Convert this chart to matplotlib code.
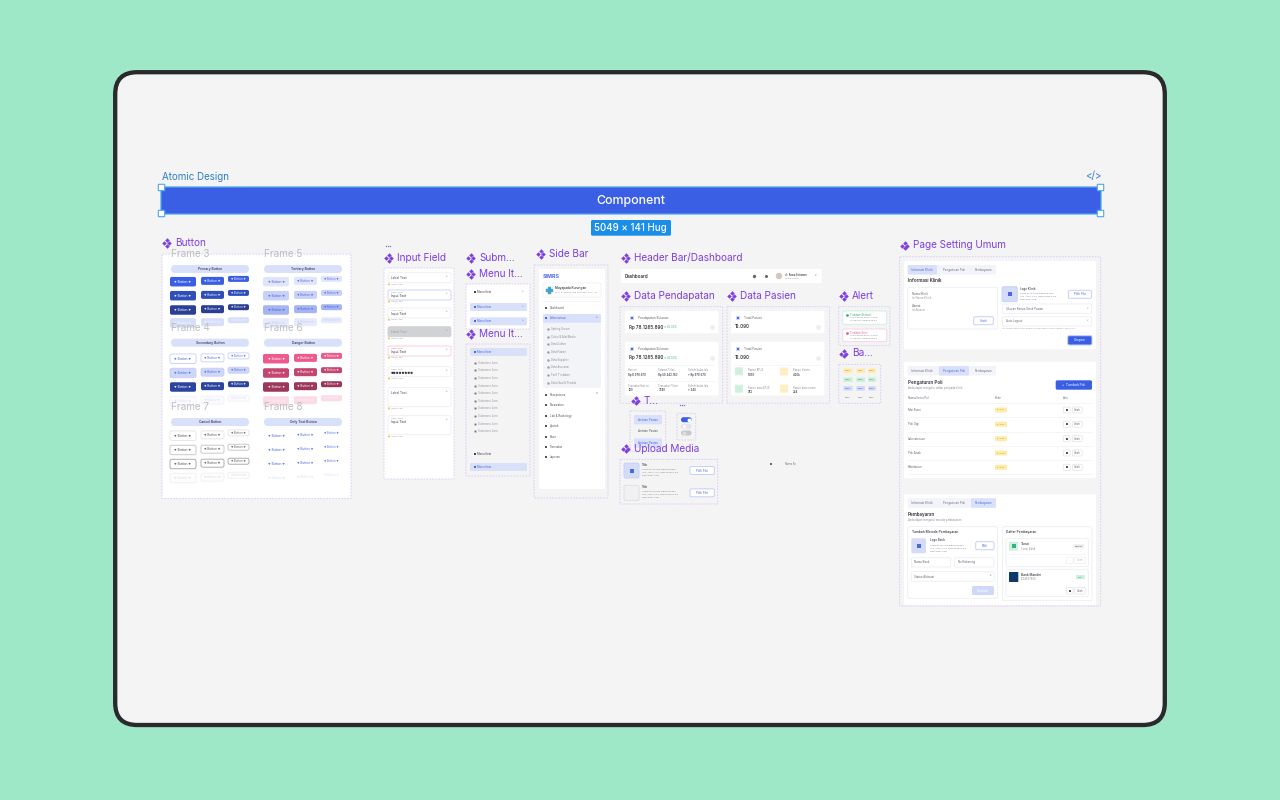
import matplotlib
matplotlib.use("Agg")
import matplotlib.pyplot as plt
from matplotlib.patches import FancyBboxPatch, Circle

plt.rcParams["font.family"] = ["Inter", "DejaVu Sans"]

PURPLE = "#7c3fe0"
BLUE = "#3a5fe5"
PALE = "#d9e0fa"
GRAY = "#f4f4f5"
LINE = "#eceef2"
DASH = "#d8c8f6"
SMALL = 0.82

section_titles = [
    (397, 258, "Input Field"), (479, 258, "Subm..."), (479, 274, "Menu It..."),
    (479, 334, "Menu It..."), (549, 254, "Side Bar"), (634, 258, "Header Bar/Dashboard"),
    (634, 296, "Data Pendapatan"), (740, 296, "Data Pasien"), (852, 296, "Alert"),
    (852, 353.5, "Ba..."), (644, 400.5, "T..."), (634, 448.5, "Upload Media"),
    (913, 245.5, "Page Setting Umum"), (175, 243, "Button"),
]

frame_names = ["Frame 3", "Frame 4", "Frame 7", "Frame 5", "Frame 6", "Frame 8"]
frame_titles = ["Primary Button", "Secondary Button", "Cancel Button",
                "Tertiary Button", "Danger Button", "Only Text Button"]
frame_y = [254, 327.7, 407]
pill_y = [269, 342.7, 422]
row_y = [[281.7, 295.7, 310, 323], [358.7, 373, 387, 401], [435.7, 450, 464, 478]]
col_x = [183, 212.5, 238.5]
col_w = [26, 23, 21]
col_h = [9.5, 8, 6]
col_fs = [2.9, 2.7, 2.4]
btn_fill = [
    ["#3a5fe5", "#2e4eb8", "#2a3f94", "#d7def9"],
    ["#ffffff", "#cfd7f8", "#2c439f", "#fbfbfe"],
    ["#ffffff", "#ffffff", "#ffffff", "#fdfdfd"],
    ["#e0e5fb", "#c8d1f7", "#a6b5f1", "#e6eafb"],
    ["#ee5a8e", "#c4456f", "#9c365a", "#fadbe6"],
    ["none", "none", "none", "none"],
]
btn_edge = [
    ["none"] * 4,
    ["#c5cff8", "#c5cff8", "none", "#f0f2fc"],
    ["#e3e3e5", "#c0c0c4", "#a0a0a5", "#f0f0f2"],
    ["none"] * 4,
    ["none"] * 4,
    ["none"] * 4,
]
btn_text = [
    ["#ffffff", "#ffffff", "#ffffff", "#f4f6fe"],
    ["#4a68e0", "#4a68e0", "#ffffff", "#d9e0fa"],
    ["#555559", "#555559", "#555559", "#dddddf"],
    ["#4a68e0", "#4a68e0", "#4a68e0", "#c8d1f7"],
    ["#ffffff", "#ffffff", "#ffffff", "#fdf2f6"],
    ["#4a68e0", "#4a68e0", "#4a68e0", "#d9e0fa"],
]

input_boxes = [
    (272.7, 10, "#ffffff", "#eeeef2", "Label Text", ""),
    (290, 10, "#ffffff", "#c5cff8", "Label Text", "Input Text"),
    (308, 10, "#ffffff", "#eeeef2", "Label Text", "Input Text"),
    (326.7, 10, "#d0d2d4", "#d0d2d4", "Label Text", ""),
    (346, 10, "#ffffff", "#f8c8d8", "Label Text", "Input Text"),
    (366.7, 10, "#ffffff", "#eeeef2", "Label Text", "\u25cf\u25cf\u25cf\u25cf\u25cf\u25cf\u25cf\u25cf"),
    (387.7, 19, "#ffffff", "#eeeef2", "Label Text", ""),
    (415.7, 19, "#ffffff", "#eeeef2", "Label Text", "Input Text"),
]

menu_top_y = [292.3, 307, 321.3]
menu_top_on = [False, True, True]
submenu_y = [362.7, 370.3, 378, 385.7, 393, 400.7, 408.3, 416, 423.7, 431.3]

side_sub_y = [329.3, 337, 344.3, 352.3, 359.7, 367.3, 375, 382.7]
side_sub = ["Setting Umum", "Cabin & Alat Medis", "Data Dokter", "Data Pasien", "Data Supplier",
            "Data Asuransi", "Tarif Tindakan", "Data Obat & Produk"]
side_main_y = [395, 405, 416, 426, 437, 447, 457]
side_main = ["Resepsionis", "Perawatan", "Lab & Radiology", "Apotek", "Kasir", "Transaksi", "Laporan"]

income_rows = [
    (628.5, "Hari ini", "Rp 8.978.670", "Transaksi Hari ini", "120"),
    (658.5, "Selama 7 Hari", "Rp 59.342.180", "Transaksi 7 Hari", "3740"),
    (688, "Selisih bulan lalu", "+ Rp 979.670", "Selisih bulan lalu", "+ 240"),
]
patient_stats = [
    (735, 370.3, "#cfefdf", "Pasien BPJS", "1.890"),
    (780, 370.3, "#ffeec2", "Pasien Umum", "4.20k"),
    (735, 387.7, "#cfefdf", "Pasien baru BPJS", "782"),
    (780, 387.7, "#ffeec2", "Pasien baru umum", "234"),
]
badge_x = [848, 860.7, 872]
badge_w = [9, 8.6, 7.6]
badge_y = [370.7, 379.7, 388.3, 397]
badge_fill = ["#ffeaa8", "#c8efd8", "#cfd8f8", "none"]
badge_text = ["#b8902a", "#3c9d6e", "#4a68e0", "#777777"]

tab_labels = ["Informasi Klinik", "Pengaturan Poli", "Pembayaran"]
tab_center = [922, 953.7, 983.7]
tab_sel = [(907.7, 29.3), (939, 30), (971, 25)]
poli_y = [410, 424.3, 438.7, 453, 467.3]
poli_line = [402.7, 417, 431.7, 445.7, 460, 474.3]
poli_names = ["Mei Bumi", "Poli Gigi", "Laboratorium", "Poli Anak", "Kebidanan"]
poli_codes = ["PL-001", "PL-002", "PL-003", "PL-004", "PL-005"]

fig = plt.figure(figsize=(12.8, 8), dpi=100, facecolor="#9fe8c7")
ax = fig.add_axes([0, 0, 1, 1])
ax.set_xlim(0, 1280)
ax.set_ylim(800, 0)
ax.axis("off")


def box(x, y, w, h, fc="#ffffff", ec="none", r=1.0, lw=0.5, ls="-", z=2):
    p = FancyBboxPatch((x, y), w, h, boxstyle=f"round,pad=0,rounding_size={r}",
                       fc=fc, ec=ec, lw=lw, ls=ls, zorder=z)
    ax.add_patch(p)


def dashed(x, y, w, h, fc="none", z=2):
    box(x, y, w, h, fc=fc, ec=DASH, r=0.5, lw=0.6, ls=(0, (2, 1.6)), z=z)


def txt(x, y, s, fs=2.6, c="#555566", ha="left", w="normal", z=5):
    # the mock's tiny labels come out narrower than their nominal size
    if fs < 3.2:
        fs = fs * SMALL
    ax.text(x, y, s, fontsize=fs, color=c, ha=ha, va="center", fontweight=w, zorder=z)


def comp_icon(cx, cy):
    d = 2.7
    for dx, dy in [(-d, 0), (d, 0), (0, -d), (0, d)]:
        ax.plot(cx + dx, cy + dy, marker="D", ms=2.3, color=PURPLE, mew=0, zorder=6)


def dots(cx, cy, c="#7c6fd8"):
    for dx in (-2, 0, 2):
        ax.plot(cx + dx, cy, marker="o", ms=1.0, color=c, mew=0, zorder=6)


def btn(x, y, w, h, label, fc="#ffffff", ec="#c5cff8", c="#4a68e0", fs=2.7, lw=0.7):
    box(x, y, w, h, fc=fc, ec=ec, r=1.5, lw=lw, z=4)
    txt(x + w / 2, y + h / 2, label, fs=fs, c=c, ha="center")


def tabs(y, sel):
    box(907.7, y, 88.3, 9.5, fc="#f3f4fa", r=1.2, z=3)
    box(tab_sel[sel][0], y, tab_sel[sel][1], 9.5, fc=PALE, r=1.2, z=3)
    for i in range(3):
        txt(tab_center[i], y + 4.8, tab_labels[i], fs=2.6, ha="center",
            c="#4a68e0" if i == sel else "#6a6a78")


# device frame
box(115.2, 72.2, 1049.6, 652.8, fc="#f4f4f4", ec="#2a2a2c", r=22, lw=3.1, z=1)

# selected component bar
txt(162, 176.5, "Atomic Design", fs=7.0, c="#2c7ccc")
ax.text(1093, 176.5, "</>", fontsize=7.0, color="#2c7ccc", ha="center", va="center", zorder=5)
box(161, 187, 940, 27, fc=BLUE, ec="#4aa8f0", r=0.01, lw=0.9)
txt(631, 200.7, "Component", fs=8.9, c="#ffffff", ha="center", w="medium")
for hx, hy in [(161.5, 187.5), (1100.5, 187.5), (161.5, 213.5), (1100.5, 213.5)]:
    box(hx - 3.2, hy - 3.2, 6.4, 6.4, fc="#ffffff", ec="#4aa8f0", r=0.5, lw=0.8, z=6)
box(591, 220, 80, 15.7, fc="#1b8fe8", r=1.5)
txt(630.5, 228, "5049 \u00d7 141 Hug", fs=7.0, c="#ffffff", ha="center", w="medium")

for tx, ty, s in section_titles:
    comp_icon(tx - 8.5, ty)
    txt(tx, ty, s, fs=7.2, c=PURPLE)
dots(388, 246)
dots(681.5, 405)

# buttons
box(162, 254, 189, 244.5, ec=DASH, r=0.3, lw=0.6, ls=(0, (2, 1.6)))
for f in range(6):
    off = 0 if f < 3 else 93
    k = f % 3
    txt(171 + off, frame_y[k], frame_names[f], fs=7.2, c="#bdbdc2", z=7)
    box(171 + off, pill_y[k] - 4, 78, 8, fc=PALE, r=4, z=3)
    txt(210 + off, pill_y[k], frame_titles[f], fs=2.9, c="#40405a", ha="center", w="semibold")
    for r in range(4):
        for c in range(3):
            yy = row_y[k][r] - (col_h[0] - col_h[c]) / 2 * (c / 2 + 0.6)
            box(col_x[c] + off - col_w[c] / 2, yy - col_h[c] / 2, col_w[c], col_h[c],
                fc=btn_fill[f][r], ec=btn_edge[f][r], r=1.8, lw=0.6, z=3)
            txt(col_x[c] + off, yy, "\u2726 Button \u2726", fs=col_fs[c], c=btn_text[f][r], ha="center")

# input fields
dashed(384, 268, 70, 211, fc="#ffffff")
for y0, h, fc, ec, lab, val in input_boxes:
    box(388, y0, 63, h, fc=fc, ec=ec, r=1.5, lw=0.6, z=3)
    if val:
        lab_c = "#ee5a8e" if ec == "#f8c8d8" else "#9a9aa5"
        txt(391, y0 + 2.6, lab, fs=2.1, c=lab_c)
        txt(391, y0 + 6.4, val, fs=2.8, c="#33333d")
    else:
        txt(391, y0 + 5, lab, fs=2.8, c="#9a9a9f" if fc != "#ffffff" else "#44444f")
    txt(446, y0 + 4.5, "\u02c4", fs=3, c="#8a8a95")
    box(388, y0 + h + 0.8, 1.8, 1.8, fc="#f5c33b", r=0.3, z=3)
    txt(391, y0 + h + 1.7, "Helper text", fs=2.1, c="#a0a0a8")

# menu items
dashed(466, 284, 64, 45, fc="#ffffff")
for yy, on in zip(menu_top_y, menu_top_on):
    if on:
        box(470, yy - 4, 57, 8, fc=PALE, r=1.2, z=3)
    ax.plot(474.5, yy, marker="s", ms=1.8, color="#4a68e0" if on else "#44444f", mew=0, zorder=5)
    txt(477, yy, "Menu Item", fs=2.5, c="#4a68e0" if on else "#44444f")
    txt(522, yy, "\u02c4", fs=3, c="#8a8a95")
dashed(466, 344, 64, 132)
box(470, 348, 57, 8, fc=PALE, r=1.2, z=3)
ax.plot(474.5, 352, marker="s", ms=1.8, color="#4a68e0", mew=0, zorder=5)
txt(477, 352, "Menu Item", fs=2.5, c="#4a68e0")
for yy in submenu_y:
    ax.plot(475, yy, marker="s", ms=1.4, color="#777782", mew=0, zorder=5)
    txt(478, yy, "Submenu Item", fs=2.5, c="#9a9aa5")
ax.plot(474.5, 454.3, marker="s", ms=1.8, color="#44444f", mew=0, zorder=5)
txt(477, 454.3, "Menu Item", fs=2.5, c="#44444f")
box(470, 463, 57, 8, fc=PALE, r=1.2, z=3)
ax.plot(474.5, 467, marker="s", ms=1.8, color="#4a68e0", mew=0, zorder=5)
txt(477, 467, "Menu Item", fs=2.5, c="#4a68e0")

# side bar
dashed(534, 265, 74, 233)
box(539, 269, 66, 220, r=0.5, z=3)
txt(543, 276.7, "SIMRS", fs=3.8, c="#4a68e0", w="bold")
box(543, 283, 58, 14, ec="#eeeef2", r=1.2, z=4)
ax.plot([549, 549], [288, 292], lw=2.4, color="#2bb79a", zorder=5)
ax.plot([547, 551], [290, 290], lw=2.4, color="#4a9be0", zorder=5)
txt(555, 288, "Mayapada Kuningan", fs=2.8, c="#33333d", w="medium")
txt(555, 292.3, "Jl. H. R. Rasuna Said Kuningan, D. K. I. B", fs=1.9, c="#8a8a95")
ax.plot([543, 601], [300.5, 300.5], lw=0.4, color=LINE, zorder=4)
ax.plot(546, 308, marker="s", ms=2, color="#555560", mew=0, zorder=5)
txt(550, 308, "Dashboard", fs=2.5, c="#55555f")
box(543, 322, 58, 66, fc="#f3f4f7", r=1.5, z=4)
box(543, 314, 58, 8.7, fc=PALE, r=1.2, z=4)
ax.plot(546, 318.4, marker="s", ms=2, color="#4a68e0", mew=0, zorder=5)
txt(550, 318.4, "Administrasi", fs=2.5, c="#4a68e0")
txt(596, 318.4, "\u02c4", fs=3, c="#4a68e0")
for yy, s in zip(side_sub_y, side_sub):
    ax.plot(548, yy, marker="o", ms=1.8, color="#a0a0a8", mew=0, zorder=5)
    txt(551, yy, s, fs=2.4, c="#8a8a95")
for yy, s in zip(side_main_y, side_main):
    ax.plot(546, yy, marker="s", ms=2, color="#555560", mew=0, zorder=5)
    txt(550, yy, s, fs=2.5, c="#55555f")
txt(596, 395, "\u02c5", fs=3.2, c="#8a8a95")

# header bar
box(620.7, 269, 201, 14, r=0.5)
txt(625, 276, "Dashboard", fs=3.25, c="#33333d", w="semibold")
ax.plot(754, 276, marker="o", ms=2.4, color="#666670", mew=0, zorder=5)
ax.plot(765.5, 276, marker="o", ms=2.2, color="#666670", mew=0, zorder=5)
ax.add_patch(Circle((779, 276), 3.2, fc="#d8c4c0", ec="none", zorder=5))
txt(785, 274.5, "dr. Rama Setiawan", fs=2.2, c="#33333d", w="medium")
txt(785, 278.2, "Administrator", fs=2.1, c="#9a9aa5")
txt(815, 276, "\u02c5", fs=3, c="#66666f")

# pendapatan cards
dashed(620, 306.7, 102.7, 96.5)
dashed(727, 306.7, 102.7, 96.5)
for x0, name, value in [(625, "Pendapatan Bulanan", "Rp 78.1265.890"), (731, "Total Pasien", "12.090")]:
    for y0, h in [(311, 22.3), (341.7, 54)]:
        box(x0, y0, 93.5, h, r=1.5, z=3)
        ax.plot(x0 + 6.5, y0 + 7.2, marker="s", ms=3.5, color="#cfd8f8", mew=0, zorder=4)
        ax.plot(x0 + 6.5, y0 + 7.2, marker="s", ms=1.7, color="#4a68e0", mew=0, zorder=5)
        txt(x0 + 12.5, y0 + 7.2, name, fs=2.8, c="#66666f")
        txt(x0 + 3.8, y0 + 16, value, fs=3.25, c="#33333d", w="semibold")
        ax.plot(x0 + 87, y0 + 16, marker="o", ms=3.4, color="#eeeef2", mew=0, zorder=4)
        if x0 == 625:
            txt(664, y0 + 16.3, "\u2197 26.35%", fs=2.4, c="#3ab07f")
    ax.plot([x0 + 4, x0 + 89], [364.7, 364.7], lw=0.4, color=LINE, zorder=4)
for xx, a, b, d, e in income_rows:
    txt(xx, 370.3, a, fs=2.2, c="#8a8a95")
    txt(xx, 374.7, b, fs=2.4, c="#44444f", w="semibold")
    txt(xx, 386, d, fs=2.2, c="#8a8a95")
    txt(xx, 390.3, e, fs=2.4, c="#44444f", w="semibold")
ax.plot([629, 714], [380.7, 380.7], lw=0.4, color=LINE, zorder=4)
for xx, yy, col, a, b in patient_stats:
    box(xx, yy - 3, 8, 8, fc=col, r=1, z=4)
    txt(xx + 13, yy, a, fs=2.2, c="#8a8a95")
    txt(xx + 13, yy + 4.5, b, fs=2.4, c="#44444f", w="semibold")

# alert
dashed(838.7, 306.7, 51.3, 39)
box(842.7, 311, 44, 13.3, ec="#c8efd8", r=1.5, lw=0.6, z=3)
box(842.7, 329, 44, 12.7, ec="#f8cfdc", r=1.5, lw=0.6, z=3)
ax.plot(846.8, 315, marker="o", ms=2, color="#3ab07f", mew=0, zorder=5)
ax.plot(846.8, 333, marker="o", ms=2, color="#ee5a8e", mew=0, zorder=5)
txt(850, 314.7, "Tindakan Berhasil", fs=2.2, c="#3ab07f")
txt(850, 332.7, "Tindakan Error", fs=2.2, c="#ee5a8e")
for y0 in (317.7, 335.7):
    txt(850, y0, "Lorem ipsum dolor sit amet", fs=1.9, c="#8a8a95")
    txt(850, y0 + 2.6, "consectetur adipiscing elit", fs=1.9, c="#8a8a95")

# badge
dashed(838.7, 364.3, 42, 39)
for i, yy in enumerate(badge_y):
    for xx, w in zip(badge_x, badge_w):
        if badge_fill[i] != "none":
            box(xx - w / 2, yy - 2.2, w, 4.4, fc=badge_fill[i], r=0.6, z=3)
        txt(xx, yy, "Label", fs=2.1, c=badge_text[i], ha="center")

# tab + toggle
dashed(630, 411, 35.7, 40.7)
box(634, 415, 28, 9.3, fc=PALE, r=1, z=3)
box(634, 438.3, 28, 9.4, fc=PALE, r=1, z=3)
for yy, col in [(419.7, "#4a68e0"), (431.3, "#55555f"), (443, "#4a68e0")]:
    txt(648, yy, "Antrian Pasien", fs=2.6, c=col, ha="center")
dashed(677, 413.3, 18.7, 26.7)
for yy, col in [(419.7, BLUE), (426.3, "#e3e3e6"), (433, "#c8c8cc")]:
    box(681, yy - 2.5, 10.5, 5, fc=col, r=2.4, z=3)
ax.plot(689, 419.7, marker="o", ms=2.8, color="#ffffff", mew=0, zorder=5)
ax.plot(684, 426.3, marker="o", ms=2.8, color="#ffffff", mew=0, zorder=5)
ax.plot(684, 433, marker="o", ms=2.8, color="#dddde0", mew=0, zorder=5)

# upload media
dashed(620, 459.3, 97.7, 44.7)
for y0, fc, ec in [(463, "#d5dcf8", "#c5cff8"), (485.3, "#f1f1f3", "#dddde2")]:
    box(624, y0, 15, 15, fc=fc, ec=ec, r=1.5, lw=0.6, z=3)
    txt(642, y0 + 2.2, "Title", fs=2.6, c="#44444f", w="medium")
    txt(642, y0 + 6.4, "Gunakan file yang diperbolehkan", fs=1.9, c="#8a8a95")
    txt(642, y0 + 9.3, "JPG, JPEG, PNG, dengan besar file", fs=1.9, c="#8a8a95")
    txt(642, y0 + 12.2, "maksimum 2 Mb", fs=1.9, c="#8a8a95")
    btn(690, y0 + 3.5, 24.3, 8, "Pilih File")
ax.plot(631.5, 470.5, marker="s", ms=3, color="#4a68e0", mew=0, zorder=5)
ax.plot(771, 463.7, marker="s", ms=2, color="#66666f", mew=0, zorder=5)
txt(785, 463.7, "Name Ex", fs=2.2, c="#66666f")

# page setting umum
dashed(899.5, 256.7, 201.2, 349.3)
box(904, 261, 192, 88.3, r=1.5, z=3)
box(904, 361.7, 192, 116.6, r=1.5, z=3)
box(904, 494.3, 192, 110.7, r=1.5, z=3)

tabs(265, 0)
txt(908, 281, "Informasi Klinik", fs=3.3, c="#33333d", w="semibold")
box(907.7, 287.3, 90, 41.7, ec=LINE, r=1.5, lw=0.6, z=3)
txt(912, 293.7, "Nama Klinik", fs=2.5, c="#66666f")
txt(912, 298, "Isi Nama Klinik", fs=2.4, c="#9a9aa5")
txt(912, 306, "Alamat", fs=2.5, c="#66666f")
txt(912, 310.3, "Isi Alamat", fs=2.4, c="#9a9aa5")
btn(973.7, 316.7, 19.6, 8, "Ubah")
box(1002, 286.7, 15.3, 15, fc="#d5dcf8", ec="#c5cff8", r=1.5, lw=0.6, z=3)
ax.plot(1009.6, 294, marker="s", ms=3, color="#4a68e0", mew=0, zorder=5)
txt(1020, 288.7, "Logo Klinik", fs=2.6, c="#44444f", w="medium")
txt(1020, 293.3, "Gunakan file yang diperbolehkan", fs=1.9, c="#8a8a95")
txt(1020, 296.5, "JPG, JPEG, PNG, dengan besar file", fs=1.9, c="#8a8a95")
txt(1020, 299.7, "maksimum 2 Mb", fs=1.9, c="#8a8a95")
btn(1068.3, 290.3, 23.4, 8, "Pilih File")
for y0, s in [(304, "Ukuran Kertas Struk Pasien"), (316.7, "Auto Logout")]:
    box(1002.3, y0, 89.4, 9.3, ec=LINE, r=1.5, lw=0.6, z=3)
    txt(1005.5, y0 + 4.7, s, fs=2.5, c="#66666f")
    txt(1087, y0 + 4.7, "\u02c5", fs=3, c="#8a8a95")
txt(1002.3, 328.7, "Atur waktu auto logout dalam hitungan menit setelah aplikasi tidak aktif", fs=1.9, c="#9a9aa5")
btn(1067.7, 335.7, 24.3, 9.3, "Simpan", fc=BLUE, ec="#c5cff8", c="#ffffff", fs=2.9)

tabs(366, 1)
txt(908, 382.7, "Pengaturan Poli", fs=3.3, c="#33333d", w="semibold")
txt(908, 387.7, "Anda dapat mengatur daftar poli pada klinik", fs=2.3, c="#8a8a95")
btn(1055.7, 380.3, 36.3, 9.4, "+  Tambah Poli", fc=BLUE, ec="none", c="#ffffff", fs=2.9)
txt(908, 398.3, "Nama/Jenis Poli", fs=2.4, c="#66666f")
txt(995, 398.3, "Kode", fs=2.4, c="#66666f")
txt(1063, 398.3, "Aksi", fs=2.4, c="#66666f")
for yy in poli_line:
    ax.plot([908, 1092], [yy, yy], lw=0.4, color=LINE, zorder=4)
for yy, name, code in zip(poli_y, poli_names, poli_codes):
    txt(908, yy, name, fs=2.5, c="#66666f")
    box(995, yy - 2.5, 12, 5, fc="#ffeaa8", r=0.6, z=4)
    txt(1001, yy, code, fs=2.1, c="#b8902a", ha="center")
    box(1063.3, yy - 3, 6.8, 6, ec="#e3e3e6", r=1, lw=0.5, z=4)
    ax.plot(1066.7, yy, marker="s", ms=1.5, color="#55555f", mew=0, zorder=5)
    btn(1072.3, yy - 3, 10, 6, "Ubah", ec="#e3e3e6", c="#66666f", fs=2.3, lw=0.5)

tabs(498.3, 2)
txt(908, 514.7, "Pembayaran", fs=3.3, c="#33333d", w="semibold")
txt(908, 520, "Anda dapat mengatur metode pembayaran", fs=2.3, c="#8a8a95")
box(907.7, 526.7, 90, 71.6, ec=LINE, r=1.5, lw=0.6, z=3)
txt(911.7, 532, "Tambah Metode Pembayaran", fs=2.9, c="#33333d", w="medium")
box(911.3, 538.3, 14.7, 15, fc="#d5dcf8", r=1.5, z=4)
ax.plot(918.6, 545.8, marker="s", ms=3, color="#4a68e0", mew=0, zorder=5)
txt(929.7, 540.3, "Logo Bank", fs=2.6, c="#44444f", w="medium")
txt(929.7, 545, "Gunakan file yang diperbolehkan", fs=1.9, c="#8a8a95")
txt(929.7, 548, "JPG, JPEG, PNG, dengan besar file", fs=1.9, c="#8a8a95")
txt(929.7, 551.3, "maksimum 2 Mb", fs=1.9, c="#8a8a95")
btn(975.7, 541.7, 18.3, 8, "Pilih")
box(911.3, 557.7, 39.4, 9.3, ec=LINE, r=1.2, lw=0.6, z=4)
txt(914.5, 562.3, "Nama Bank", fs=2.5, c="#66666f")
box(954.3, 557.7, 39.7, 9.3, ec=LINE, r=1.2, lw=0.6, z=4)
txt(957.5, 562.3, "No Rekening", fs=2.5, c="#66666f")
box(911.3, 571.7, 82.7, 9.6, ec=LINE, r=1.2, lw=0.6, z=4)
txt(914.5, 576.5, "Status Aktivasi", fs=2.5, c="#66666f")
txt(989.5, 576.5, "\u02c5", fs=3, c="#66666f")
btn(972, 586, 22, 9, "Tambah", fc="#cfd8f8", ec="none", c="#ffffff", fs=2.8)

box(1002.3, 526.7, 89.7, 74, ec=LINE, r=1.5, lw=0.6, z=3)
txt(1006, 532, "Daftar Pembayaran", fs=2.9, c="#33333d", w="medium")
box(1006, 538.3, 82.3, 28.4, ec=LINE, r=1.5, lw=0.6, z=4)
box(1009, 541.7, 9, 9, fc="#cfefdf", r=1, z=5)
ax.plot(1013.5, 546.2, marker="s", ms=2.4, color="#3ab07f", mew=0, zorder=6)
txt(1021, 544.3, "Tunai", fs=2.8, c="#33333d", w="medium")
txt(1021, 548.7, "Tunai Bank", fs=2.3, c="#8a8a95")
box(1073.3, 544.2, 11, 4.2, fc="#eeeef0", r=0.6, z=5)
txt(1078.8, 546.3, "Default", fs=2.1, c="#66666f", ha="center", z=6)
ax.plot([1009, 1085], [554.3, 554.3], lw=0.4, color=LINE, zorder=5)
box(1066.3, 557, 6.7, 6.7, ec="#eeeef0", r=1, lw=0.5, z=5)
box(1074.3, 557, 11, 6.7, ec="#eeeef0", r=1, lw=0.5, z=5)
txt(1079.8, 560.3, "Ubah", fs=2.2, c="#c0c0c6", ha="center", z=6)
box(1006, 569.3, 82.3, 27.4, ec=LINE, r=1.5, lw=0.6, z=4)
box(1009, 572, 9.3, 10, fc="#0f3a6e", r=0.6, z=5)
txt(1021, 574.7, "Bank Mandiri", fs=2.8, c="#33333d", w="medium")
txt(1021, 579.3, "1234567890", fs=2.3, c="#8a8a95")
box(1076, 575, 9, 4.2, fc="#cfefdf", r=0.6, z=5)
txt(1080.5, 577, "Aktif", fs=2.1, c="#3ab07f", ha="center", z=6)
box(1066.3, 587.3, 6.7, 6.7, ec="#e3e3e6", r=1, lw=0.5, z=5)
ax.plot(1069.6, 590.6, marker="s", ms=1.5, color="#55555f", mew=0, zorder=6)
btn(1074.3, 587.3, 11, 6.7, "Ubah", ec="#e3e3e6", c="#66666f", fs=2.2, lw=0.5)

fig.savefig("out.png", dpi=100, facecolor=fig.get_facecolor())
